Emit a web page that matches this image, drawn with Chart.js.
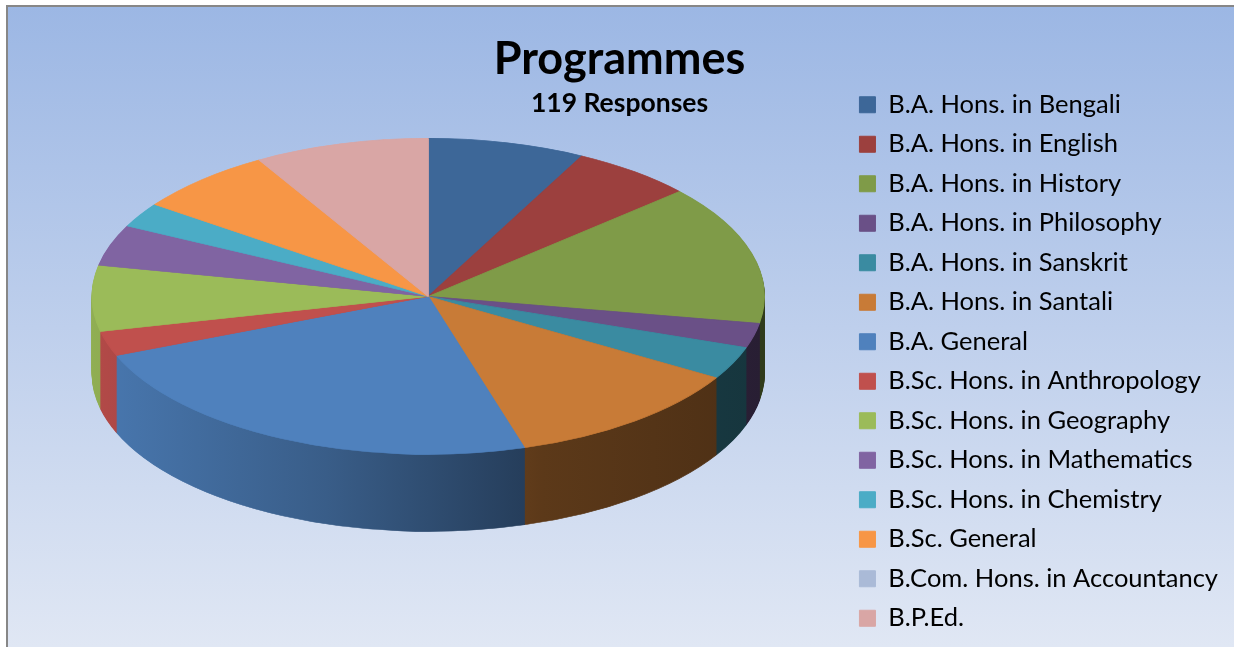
<!DOCTYPE html>
<html>
<head>
<meta charset="utf-8">
<script src="https://cdn.jsdelivr.net/npm/chart.js@4.4.1/dist/chart.umd.min.js"></script>
<style>
  html, body { margin: 0; padding: 0; background: #ffffff; }
  #wrap { position: absolute; left: 0; top: 0; width: 1234px; height: 647px; overflow: hidden; }
  #bg { position: absolute; left: 6px; top: 5px; right: 0; bottom: 0;
        border-left: 2px solid #878787; border-top: 2px solid #878787;
        background: linear-gradient(to bottom, #9cb7e4 0%, #e0e7f4 100%); }
  #c { position: absolute; left: 0; top: 0; }
</style>
</head>
<body>
<div id="wrap">
  <div id="bg"></div>
  <canvas id="c" width="1234" height="647"></canvas>
</div>
<script>
const programmes = [
  'B.A. Hons. in Bengali',
  'B.A. Hons. in English',
  'B.A. Hons. in History',
  'B.A. Hons. in Philosophy',
  'B.A. Hons. in Sanskrit',
  'B.A. Hons. in Santali',
  'B.A. General',
  'B.Sc. Hons. in Anthropology',
  'B.Sc. Hons. in Geography',
  'B.Sc. Hons. in Mathematics',
  'B.Sc. Hons. in Chemistry',
  'B.Sc. General',
  'B.Com. Hons. in Accountancy',
  'B.P.Ed.'
];
const responses = [9, 7, 17, 3, 4, 14, 28, 3, 8, 5, 3, 8, 0, 10];
const sliceColors = [
  '#3d6798', '#9c403e', '#7f9b48', '#6a5087', '#3a8ba1', '#c87b37', '#4f81bd',
  '#c0504d', '#9bbb59', '#8064a2', '#4bacc6', '#f79646', '#aabad7', '#d9a6a5'
];
const chartTitle = 'Programmes';
const chartSubtitle = '119 Responses';

function shade(hex, f) {
  const n = parseInt(hex.slice(1), 16);
  const r = Math.round(((n >> 16) & 255) * f);
  const g = Math.round(((n >> 8) & 255) * f);
  const b = Math.round((n & 255) * f);
  return 'rgb(' + r + ',' + g + ',' + b + ')';
}

// Draws the pie as a tilted 3D disc: side walls from the library's arc elements,
// then the library's own top surface under the same projection.
const pie3d = {
  id: 'pie3d',
  beforeDatasetsDraw(chart, args, opts) {
    const meta = chart.getDatasetMeta(0);
    const arcs = meta.data;
    if (!arcs.length) return;
    const ctx = chart.ctx;
    const a0 = arcs[0];
    const R = a0.outerRadius, ax = a0.x, ay = a0.y;
    const sx = opts.rx / R, sy = opts.ry / R;
    const cx = ax + opts.dx, cy = ay + opts.dy;
    const project = (d) => {
      ctx.translate(cx, cy + d);
      ctx.scale(sx, sy);
      ctx.translate(-ax, -ay);
    };
    const grads = arcs.map((arc, i) => {
      const base = sliceColors[i];
      const g = ctx.createLinearGradient(ax - R, 0, ax + R, 0);
      opts.light.forEach(([pos, f]) => g.addColorStop(pos, shade(base, f)));
      return g;
    });
    for (let d = opts.depth; d >= 1; d--) {
      ctx.save();
      project(d);
      arcs.forEach((arc, i) => {
        const o = arc.options;
        const bg = o.backgroundColor, bc = o.borderColor;
        o.backgroundColor = grads[i];
        o.borderColor = grads[i];
        arc.draw(ctx);
        o.backgroundColor = bg;
        o.borderColor = bc;
      });
      ctx.restore();
    }
    ctx.save();
    project(0);
    chart.$pie3dSaved = true;
  },
  afterDatasetsDraw(chart) {
    if (chart.$pie3dSaved) {
      chart.ctx.restore();
      chart.$pie3dSaved = false;
    }
  }
};

const FONT = 'Lato, "Open Sans", "DejaVu Sans", sans-serif';

new Chart(document.getElementById('c'), {
  type: 'pie',
  data: {
    labels: programmes,
    datasets: [{
      data: responses,
      backgroundColor: sliceColors,
      borderColor: sliceColors,
      borderWidth: 1
    }]
  },
  plugins: [pie3d],
  options: {
    responsive: false,
    devicePixelRatio: 1,
    animation: false,
    events: [],
    layout: { padding: { left: 11, right: 6, top: 0, bottom: 2 } },
    plugins: {
      pie3d: {
        rx: 336, ry: 158, depth: 77, dx: 0, dy: -86,
        light: [[0, 0.93], [0.35, 0.72], [0.67, 0.46], [1, 0.38]]
      },
      title: {
        display: true,
        text: chartTitle,
        color: '#000000',
        font: { family: FONT, size: 45, weight: 'bold' },
        padding: { top: 32, bottom: 0 }
      },
      subtitle: {
        display: true,
        text: chartSubtitle,
        color: '#000000',
        font: { family: FONT, size: 26.5, weight: 'bold' },
        padding: { top: 2, bottom: 0 }
      },
      legend: {
        display: true,
        position: 'right',
        align: 'end',
        labels: {
          color: '#000000',
          font: { family: FONT, size: 25.5 },
          boxWidth: 16,
          boxHeight: 16,
          padding: 14
        }
      },
      tooltip: { enabled: false }
    }
  }
});
</script>
</body>
</html>
